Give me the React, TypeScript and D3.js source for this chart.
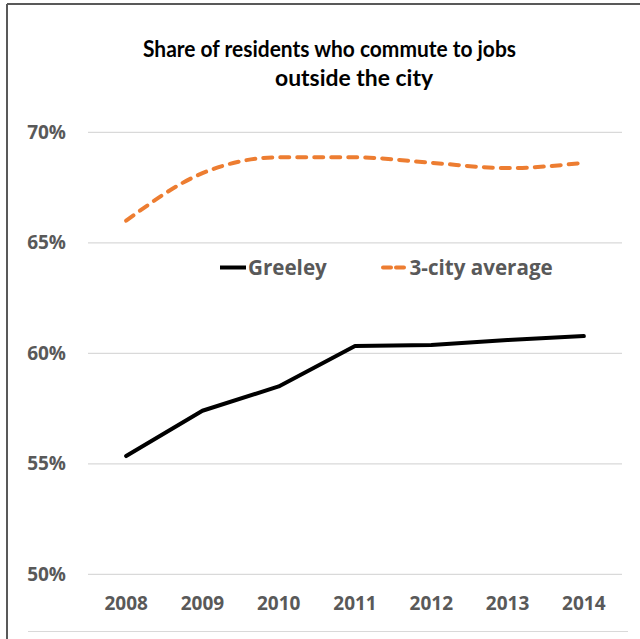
import React from "react";
import * as d3 from "d3";

const years = ["2008", "2009", "2010", "2011", "2012", "2013", "2014"];
const greeley = [0.5535, 0.574, 0.585, 0.6033, 0.6038, 0.606, 0.6078];
const threeCity = [0.66, 0.6815, 0.6887, 0.6887, 0.6862, 0.6838, 0.6862];
const yTicks = [0.5, 0.55, 0.6, 0.65, 0.7];
const titleLines = ["Share of residents who commute to jobs", "outside the city"];
const seriesNames = ["Greeley", "3-city average"];

const W = 640;
const H = 639;
const FONT = "'Open Sans', 'Liberation Sans', sans-serif";
const TITLE_FONT = "Lato, 'Open Sans', sans-serif";

export default function App() {
  const x = d3.scalePoint<string>().domain(years).range([88, 622]).padding(0.5);
  const y = d3.scaleLinear().domain([0.5, 0.7]).range([574.3, 132.3]);
  const fmt = d3.format(".0%");

  const lineStraight = d3
    .line<number>()
    .x((_, i) => x(years[i]) as number)
    .y((d) => y(d));
  const lineSmooth = d3
    .line<number>()
    .x((_, i) => x(years[i]) as number)
    .y((d) => y(d))
    .curve(d3.curveMonotoneX);

  return (
    <svg
      width={W}
      height={H}
      style={{ position: "absolute", left: 0, top: 0, background: "#fff" }}
    >
      <rect x={0} y={0} width={W} height={H} fill="#fff" />
      {/* outer border (top and left) */}
      <line x1={7} y1={4} x2={W} y2={4} stroke="#595959" strokeWidth={2} />
      <line x1={7} y1={4} x2={7} y2={H} stroke="#595959" strokeWidth={2} />
      {/* faint inner bottom border */}
      <line x1={28} y1={631.5} x2={628} y2={631.5} stroke="#d9d9d9" strokeWidth={1} />

      {/* title */}
      <text
        x={143}
        y={56.5}
        fontFamily={TITLE_FONT}
        fontWeight="bold"
        fontSize={22.5}
        fill="#000"
        textLength={373}
        lengthAdjust="spacingAndGlyphs"
      >
        {titleLines[0]}
      </text>
      <text
        x={275}
        y={85.5}
        fontFamily={TITLE_FONT}
        fontWeight="bold"
        fontSize={22.5}
        fill="#000"
        textLength={158}
        lengthAdjust="spacingAndGlyphs"
      >
        {titleLines[1]}
      </text>

      {/* gridlines & y labels */}
      {yTicks.map((t) => (
        <g key={t}>
          <line x1={88} x2={622} y1={y(t)} y2={y(t)} stroke="#d9d9d9" strokeWidth={1.3} />
          <text
            x={66}
            y={y(t)}
            dy="0.35em"
            textAnchor="end"
            fontFamily={FONT}
            fontWeight="bold"
            fontSize={19}
            fill="#595959"
          >
            {fmt(t)}
          </text>
        </g>
      ))}

      {/* x labels */}
      {years.map((yr) => (
        <text
          key={yr}
          x={x(yr)}
          y={610}
          textAnchor="middle"
          fontFamily={FONT}
          fontWeight="bold"
          fontSize={19}
          fill="#595959"
        >
          {yr}
        </text>
      ))}

      {/* series */}
      <path
        d={lineSmooth(threeCity) || ""}
        fill="none"
        stroke="#ED7D31"
        strokeWidth={4}
        strokeDasharray="9 8"
        strokeLinecap="round"
      />
      <path
        d={lineStraight(greeley) || ""}
        fill="none"
        stroke="#000"
        strokeWidth={4}
        strokeLinecap="round"
        strokeLinejoin="round"
      />

      {/* legend */}
      <line x1={220} x2={246} y1={267.5} y2={267.5} stroke="#000" strokeWidth={4} />
      <text
        x={248}
        y={274.5}
        fontFamily={FONT}
        fontWeight="bold"
        fontSize={20.6}
        fill="#595959"
      >
        {seriesNames[0]}
      </text>
      <line
        x1={383}
        x2={406}
        y1={267.5}
        y2={267.5}
        stroke="#ED7D31"
        strokeWidth={4}
        strokeDasharray="8 5"
        strokeLinecap="round"
      />
      <text
        x={409.5}
        y={274.5}
        fontFamily={FONT}
        fontWeight="bold"
        fontSize={20.6}
        fill="#595959"
      >
        {seriesNames[1]}
      </text>
    </svg>
  );
}
